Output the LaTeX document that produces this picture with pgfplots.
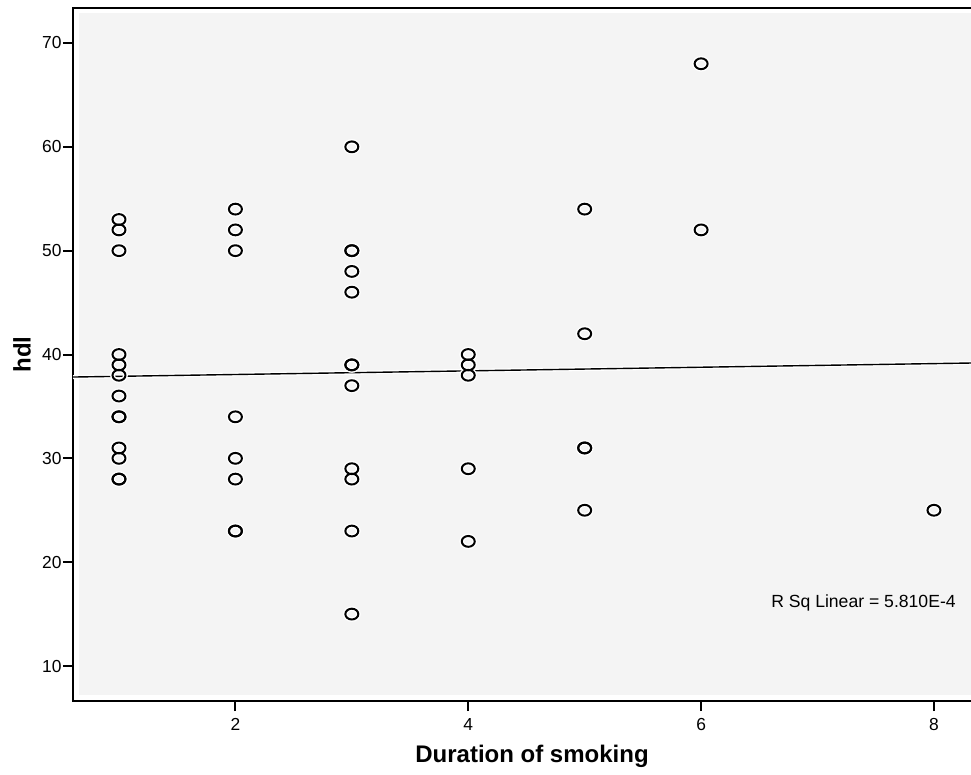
\documentclass[border=0pt]{standalone}
\usepackage{pgfplots}
\pgfplotsset{compat=1.18}
\usepackage{fontspec}
\setmainfont{Liberation Sans}
\definecolor{panel}{RGB}{244,244,244}

\pgfplotstableread{
x y
1 53
1 52
1 50
1 40
1 39
1 38
1 36
1 34
1 34
1 31
1 30
1 28
1 28
2 54
2 52
2 50
2 34
2 30
2 28
2 23
2 23
3 60
3 50
3 50
3 48
3 46
3 39
3 39
3 37
3 29
3 28
3 23
3 15
4 40
4 39
4 38
4 29
4 22
5 54
5 42
5 31
5 31
5 25
6 68
6 52
8 25
}\hdl

\begin{document}
\begin{tikzpicture}
\begin{axis}[
    name=ax,
    scale only axis,
    width=459pt, height=346.5pt,
    xmin=0.605, xmax=8.49,
    ymin=6.63, ymax=73.37,
    xtick={2,4,6,8},
    ytick={10,20,...,70},
    tick pos=left,
    tick align=outside,
    major tick length=5pt,
    tick style={black, line width=1pt},
    axis line style={line width=1pt},
    /pgf/number format/assume math mode=true,
    ticklabel style={font=\fontsize{8.7}{10}\selectfont},
    yticklabel style={inner xsep=0.5pt},
    xlabel={Duration of smoking},
    ylabel={hdl},
    label style={font=\fontsize{12}{14}\selectfont\bfseries},
    xlabel style={at={(axis description cs:0.5,0)}, anchor=base, yshift=-30.5pt},
    ylabel style={at={([xshift=-25.5pt]axis description cs:0,0.5)}, anchor=center},
    clip=true,
]
\fill[panel] ([xshift=3pt,yshift=3pt]rel axis cs:0,0) rectangle ([xshift=-3pt,yshift=-2.5pt]rel axis cs:1,1);

% fit line, with white halo as in SPSS output
\addplot[white, line width=2pt] coordinates {(0.605,37.83) (8.49,39.21)};
\addplot[black, line width=0.7pt] coordinates {(0.605,37.83) (8.49,39.21)};

\addplot[only marks, mark=o, mark size=2.7pt,
    mark options={draw=white, line width=2.4pt, xscale=1.2}] table {\hdl};
\addplot[only marks, mark=o, mark size=2.7pt,
    mark options={draw=black, line width=1pt, xscale=1.2}] table {\hdl};

\node[anchor=east, inner sep=0pt, font=\fontsize{8.8}{11}\selectfont] at (axis cs:8.19,16.07) {R Sq Linear = 5.810E-4};
\end{axis}
\pgfresetboundingbox
\path ([xshift=-36.5pt,yshift=-36.5pt]ax.south west) rectangle ([xshift=-10pt,yshift=4pt]ax.north east);
\end{tikzpicture}
\end{document}
